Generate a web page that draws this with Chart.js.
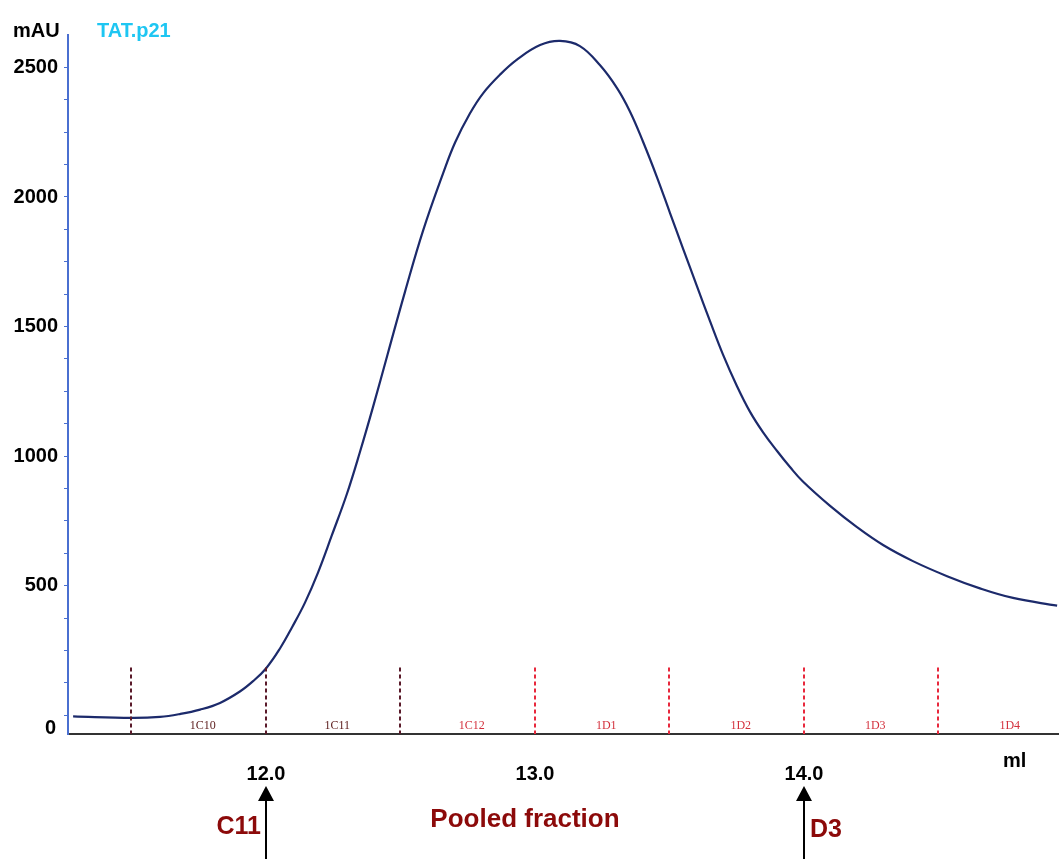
<!DOCTYPE html>
<html lang="en">
<head>
   <meta charset="UTF-8">
   <title>TAT.p21 elution profile</title>
   <script src="https://cdn.jsdelivr.net/npm/chart.js"></script>
   <style>
      html, body { margin: 0; padding: 0; background: #fff; }
      #wrap { width: 1059px; height: 859px; position: relative; }
   </style>
</head>
<body>
   <div id="wrap"><canvas id="elutionChart"></canvas></div>

   <script>
      // elution volume (ml) and absorbance (mAU)
      const volumeMl = [11.283, 11.502, 11.606, 11.680, 11.755, 11.829, 11.903, 11.952, 12.000, 12.052,
         12.097, 12.145, 12.193, 12.245, 12.301, 12.349, 12.398, 12.454, 12.517, 12.584,
         12.658, 12.703, 12.758, 12.807, 12.870, 12.933, 13.019, 13.093, 13.167, 13.242,
         13.305, 13.353, 13.401, 13.454, 13.502, 13.550, 13.602, 13.651, 13.699, 13.751,
         13.799, 13.848, 13.900, 13.948, 13.996, 14.097, 14.197, 14.294, 14.405, 14.532,
         14.654, 14.777, 14.941];
      const absorbance = [-4, -10, -6, 5, 22, 48, 92, 132, 181, 258,
         340, 435, 550, 695, 855, 1015, 1190, 1400, 1635, 1870,
         2090, 2210, 2322, 2400, 2472, 2530, 2586, 2602, 2582, 2508,
         2420, 2330, 2215, 2075, 1938, 1802, 1656, 1520, 1392, 1270,
         1172, 1092, 1020, 958, 902, 808, 726, 657, 595, 537,
         490, 453, 423];

      const yMajorTicks = [0, 500, 1000, 1500, 2000, 2500];
      const xTicks = [12.0, 13.0, 14.0];

      // fraction collector marks
      const fractionEdges = [11.5, 12.0, 12.5, 13.0, 13.5, 14.0, 14.5];
      const fractionNames = ['1C10', '1C11', '1C12', '1D1', '1D2', '1D3', '1D4'];
      const fractionMarkTop = 185;   // mAU height of the dashed marks

      // pooled fraction range
      const poolStart = 12.0;
      const poolEnd = 14.0;
      const poolStartName = 'C11';
      const poolEndName = 'D3';

      const maroon = '#8c0a0a';

      const annotations = {
         id: 'annotations',
         afterDraw(chart) {
            const ctx = chart.ctx;
            const xs = chart.scales.x;
            const ys = chart.scales.y;
            const area = chart.chartArea;
            ctx.save();

            // dashed fraction marks
            ctx.lineWidth = 2;
            ctx.setLineDash([4, 3]);
            fractionEdges.forEach((v, i) => {
               const px = Math.round(xs.getPixelForValue(v));
               ctx.strokeStyle = i < 3 ? '#5a1a2a' : '#e8283c';
               ctx.beginPath();
               ctx.moveTo(px, ys.getPixelForValue(fractionMarkTop));
               ctx.lineTo(px, area.bottom);
               ctx.stroke();
            });
            ctx.setLineDash([]);

            // fraction names
            ctx.font = '12px "Liberation Serif", "DejaVu Serif", serif';
            ctx.textAlign = 'center';
            ctx.textBaseline = 'middle';
            fractionNames.forEach((name, i) => {
               const mid = fractionEdges[i] + 0.25;
               ctx.fillStyle = i < 2 ? '#5a1a1a' : '#d3303c';
               ctx.fillText(name, xs.getPixelForValue(mid) + 4, area.bottom - 8);
            });

            // "0" label sits a little below its tick in the original
            ctx.font = 'bold 20px "Liberation Sans", Arial, sans-serif';
            ctx.fillStyle = '#000';
            ctx.textAlign = 'right';
            ctx.fillText('0', area.left - 12, ys.getPixelForValue(0) + 13);

            // axis titles
            ctx.textAlign = 'left';
            ctx.textBaseline = 'middle';
            ctx.fillText('mAU', 13, 31);
            ctx.fillStyle = '#1ec6f2';
            ctx.fillText('TAT.p21', 97, 31);
            ctx.fillStyle = '#000';
            ctx.fillText('ml', 1003, 761);

            // arrows for pooled range
            [poolStart, poolEnd].forEach(v => {
               const px = Math.round(xs.getPixelForValue(v));
               const tip = area.bottom + 52;
               ctx.fillStyle = '#000';
               ctx.strokeStyle = '#000';
               ctx.lineWidth = 2;
               ctx.beginPath();
               ctx.moveTo(px, tip + 12);
               ctx.lineTo(px, chart.height);
               ctx.stroke();
               ctx.beginPath();
               ctx.moveTo(px, tip);
               ctx.lineTo(px - 8, tip + 15);
               ctx.lineTo(px + 8, tip + 15);
               ctx.closePath();
               ctx.fill();
            });

            ctx.font = 'bold 25px "Liberation Sans", Arial, sans-serif';
            ctx.fillStyle = maroon;
            ctx.textAlign = 'right';
            ctx.fillText(poolStartName, xs.getPixelForValue(poolStart) - 5, area.bottom + 93);
            ctx.textAlign = 'left';
            ctx.fillText(poolEndName, xs.getPixelForValue(poolEnd) + 6, area.bottom + 96);

            ctx.font = 'bold 26px "Liberation Sans", Arial, sans-serif';
            ctx.textAlign = 'center';
            ctx.fillText('Pooled fraction', xs.getPixelForValue((poolStart + poolEnd) / 2) - 10, area.bottom + 86);

            ctx.restore();
         }
      };

      const ctx1 = document.getElementById('elutionChart').getContext('2d');
      new Chart(ctx1, {
         type: 'line',
         data: {
            datasets: [{
               label: 'TAT.p21',
               data: volumeMl.map((v, i) => ({ x: v, y: absorbance[i] })),
               borderColor: '#1c2a6b',
               borderWidth: 2.2,
               pointRadius: 0,
               tension: 0.4,
               fill: false
            }]
         },
         options: {
            responsive: true,
            maintainAspectRatio: false,
            animation: false,
            layout: { padding: { top: 35, right: 0, left: 0, bottom: 0 } },
            plugins: {
               legend: { display: false },
               tooltip: { enabled: false }
            },
            scales: {
               x: {
                  type: 'linear',
                  min: 11.264,
                  max: 14.948,
                  afterBuildTicks: scale => { scale.ticks = xTicks.map(v => ({ value: v })); },
                  afterFit: scale => { scale.height = 125; },
                  grid: { display: false },
                  border: { display: true, color: '#333', width: 2 },
                  ticks: {
                     color: '#000',
                     padding: 20,
                     font: { family: '"Liberation Sans", Arial, sans-serif', size: 20, weight: 'bold' },
                     callback: v => v.toFixed(1)
                  }
               },
               y: {
                  min: -72,
                  max: 2625,
                  afterBuildTicks: scale => {
                     const t = [];
                     for (let v = 0; v <= 2500; v += 125) t.push({ value: v });
                     scale.ticks = t;
                  },
                  afterFit: scale => { scale.width = 68; },
                  grid: { drawOnChartArea: false, drawTicks: true, tickLength: 4, color: '#4a6fd0' },
                  border: { display: true, color: '#4a6fd0', width: 2 },
                  ticks: {
                     autoSkip: false,
                     color: '#000',
                     padding: 6,
                     font: { family: '"Liberation Sans", Arial, sans-serif', size: 20, weight: 'bold' },
                     callback: v => (v !== 0 && yMajorTicks.includes(v)) ? String(v) : ''
                  }
               }
            }
         },
         plugins: [annotations]
      });
   </script>
</body>
</html>
